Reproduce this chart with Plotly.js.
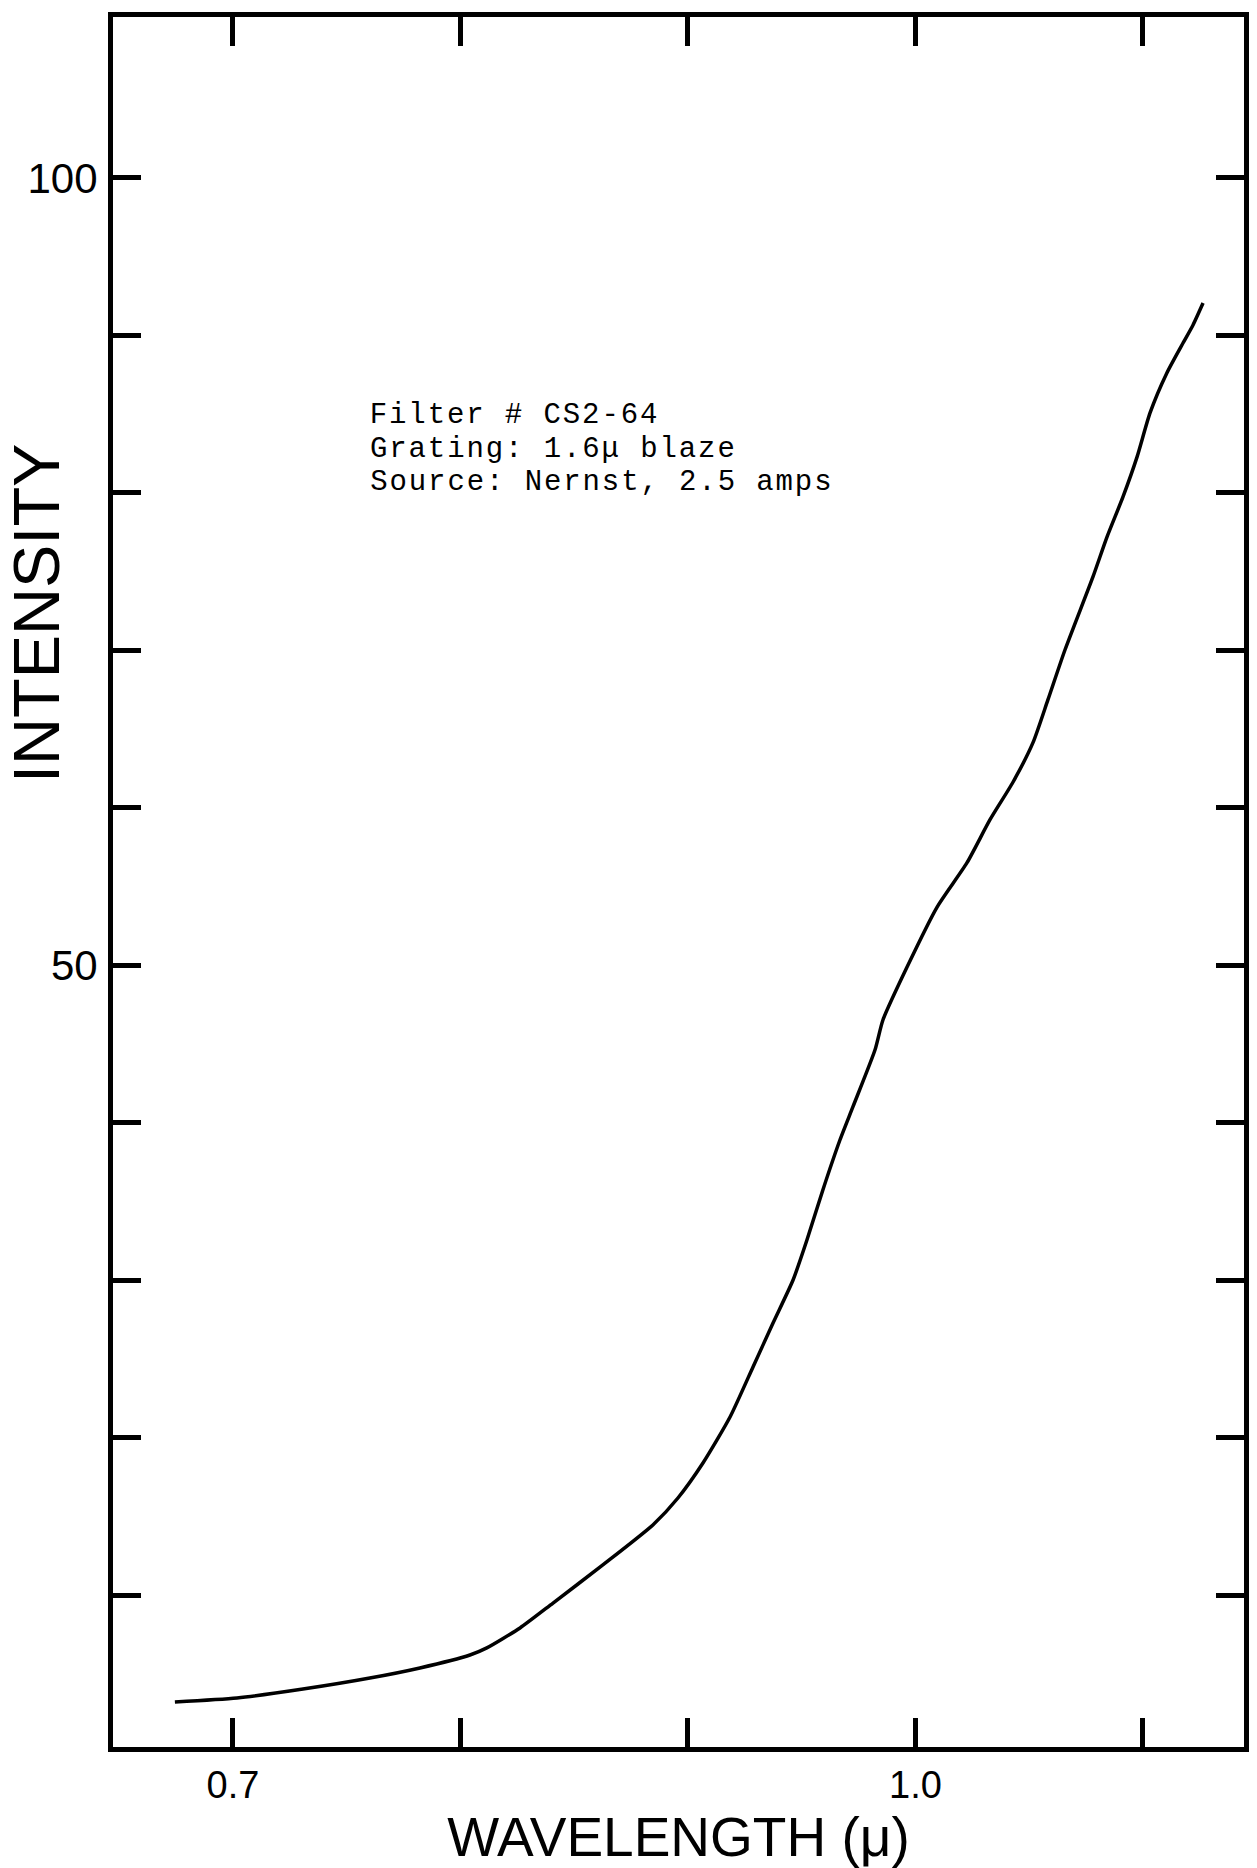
<!DOCTYPE html>
<html>
<head>
<meta charset="utf-8">
<script src="https://cdn.plot.ly/plotly-3.0.1.min.js"></script>
<style>
  html, body { margin: 0; padding: 0; background: #ffffff; }
  #chart { width: 1257px; height: 1868px; }
  g.annotation[data-index="0"] text,
  g.annotation[data-index="1"] text,
  g.annotation[data-index="2"] text { letter-spacing: 1.9px; }
</style>
</head>
<body>
<div id="chart"></div>
<script>
// Wavelength (microns)
const wavelength = [0.6745, 0.7018, 0.7308, 0.7602, 0.7822, 0.8042, 0.8116, 0.8262, 0.8407, 0.8626,
  0.8846, 0.8956, 0.9066, 0.9185, 0.9286, 0.9374, 0.9462, 0.9523, 0.9593, 0.9668,
  0.9725, 0.9822, 0.9857, 0.9963, 1.0095, 1.0226, 1.0327, 1.0429, 1.0516, 1.0582,
  1.0657, 1.0780, 1.0842, 1.0912, 1.0974, 1.1031, 1.1105, 1.1176, 1.1220, 1.1264];
// Intensity
const intensity = [3.24, 3.49, 4.06, 4.76, 5.40, 6.22, 6.67, 7.94, 9.52, 11.94,
  14.48, 16.19, 18.41, 21.33, 24.51, 27.30, 30.03, 32.57, 35.75, 38.92,
  41.02, 44.63, 46.54, 49.90, 53.71, 56.51, 59.24, 61.65, 64.13, 66.86,
  70.03, 74.67, 77.21, 79.75, 82.29, 85.08, 87.62, 89.52, 90.67, 92.06];

// Axis ticks
const xTickVals = [0.7, 0.8, 0.9, 1.0, 1.1];
const xTickText = ['0.7', '', '', '1.0', ''];
const yTickVals = [10, 20, 30, 40, 50, 60, 70, 80, 90, 100];
const yTickText = ['', '', '', '', '50', '', '', '', '', '100'];

// Texts
const noteLines = ['Filter # CS2-64', 'Grating: 1.6\u03bc blaze', 'Source: Nernst, 2.5 amps'];
const xTitle = 'WAVELENGTH (\u03bc)';
const yTitle = 'INTENSITY';

const handFont = 'Liberation Sans, Arial, sans-serif';
const typeFont = 'Liberation Mono, Courier New, monospace';
const LETTER_SPACING = 1.9;

const trace = {
  x: wavelength,
  y: intensity,
  type: 'scatter',
  mode: 'lines',
  line: { color: '#000000', width: 3.5, shape: 'spline', smoothing: 0.6 },
  hoverinfo: 'skip',
  showlegend: false
};

const W = 1257, H = 1868;
const margin = { l: 113, r: 13, t: 17, b: 121 };
const plotW = W - margin.l - margin.r;
const plotH = H - margin.t - margin.b;

function px2paperX(px) { return (px - margin.l) / plotW; }
function px2paperY(py) { return 1 - (py - margin.t) / plotH; }

const noteY = [415, 449, 483];
const annotations = noteLines.map((t, i) => ({
  text: t,
  xref: 'paper', yref: 'paper',
  x: px2paperX(368), y: px2paperY(noteY[i]),
  xanchor: 'left', yanchor: 'middle',
  xshift: LETTER_SPACING * t.length / 2,
  showarrow: false,
  font: { family: typeFont, size: 29, color: '#000000' }
}));

annotations.push({
  text: yTitle,
  xref: 'paper', yref: 'paper',
  x: px2paperX(37), y: px2paperY(614),
  xanchor: 'center', yanchor: 'middle',
  textangle: -90,
  showarrow: false,
  font: { family: handFont, size: 65, color: '#000000' }
});

const layout = {
  width: W,
  height: H,
  margin: margin,
  paper_bgcolor: '#ffffff',
  plot_bgcolor: '#ffffff',
  showlegend: false,
  xaxis: {
    range: [0.6473, 1.1444],
    tickmode: 'array',
    tickvals: xTickVals,
    ticktext: xTickText,
    ticks: 'inside',
    ticklen: 29,
    tickwidth: 5,
    tickcolor: '#000000',
    showline: true,
    linecolor: '#000000',
    linewidth: 5,
    mirror: 'allticks',
    showgrid: false,
    zeroline: false,
    tickfont: { family: handFont, size: 38, color: '#000000' },
    ticklabelstandoff: 0,
    title: {
      text: xTitle,
      font: { family: handFont, size: 55, color: '#000000' },
      standoff: 33
    }
  },
  yaxis: {
    range: [0.38, 110.22],
    tickmode: 'array',
    tickvals: yTickVals,
    ticktext: yTickText,
    ticks: 'inside',
    ticklen: 28,
    tickwidth: 5,
    tickcolor: '#000000',
    showline: true,
    linecolor: '#000000',
    linewidth: 5,
    mirror: 'allticks',
    showgrid: false,
    zeroline: false,
    tickfont: { family: handFont, size: 42, color: '#000000' },
    ticklabelstandoff: 2
  },
  annotations: annotations
};

Plotly.newPlot('chart', [trace], layout, { staticPlot: true, displayModeBar: false });
</script>
</body>
</html>
